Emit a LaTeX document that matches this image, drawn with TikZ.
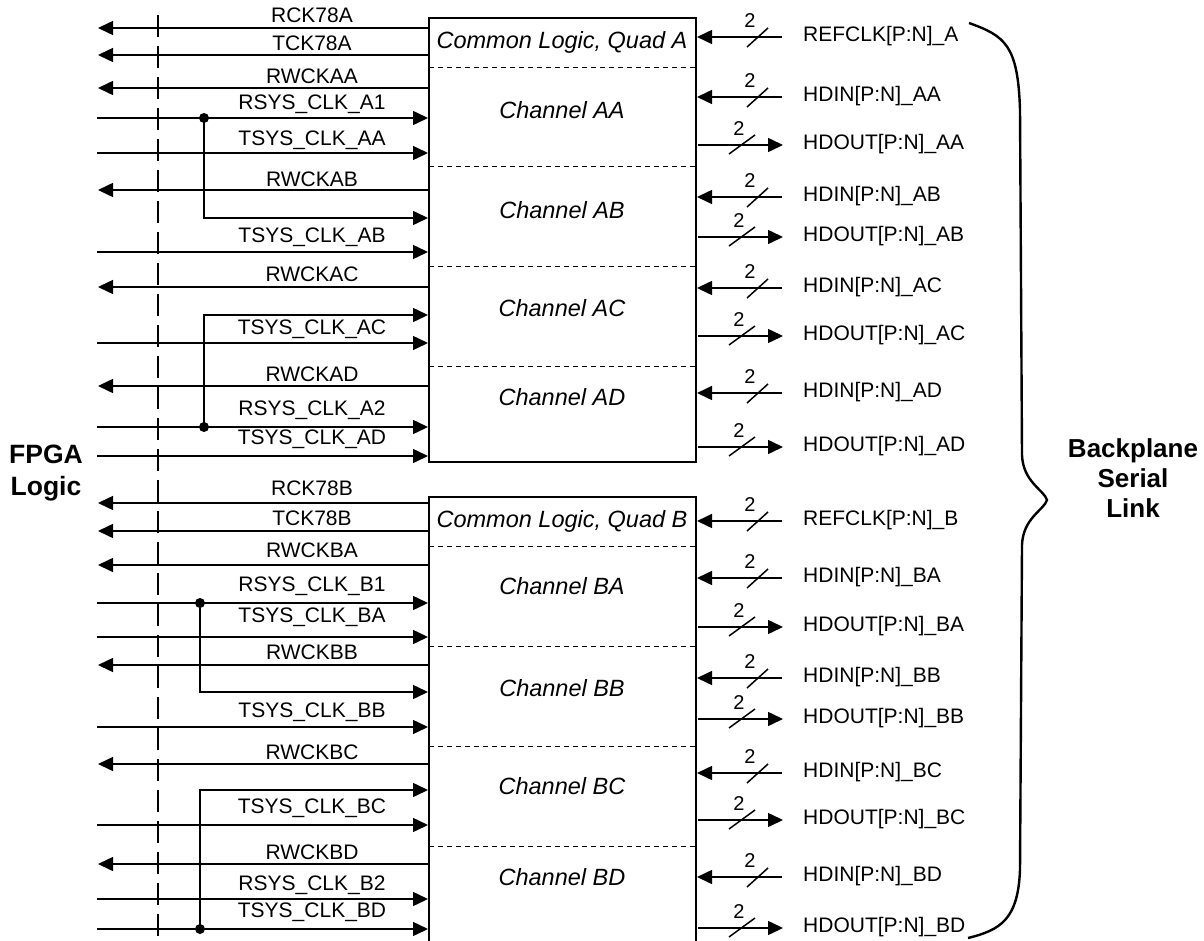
\documentclass[tikz,border=0pt]{standalone}
\usepackage{fontspec}
\setmainfont{Liberation Sans}
\usepackage{tikz}
\usetikzlibrary{calc, arrows.meta}

\tikzset{
  sigline/.style={line width=1.5pt},
  sigarrow/.style={-{Triangle[length=15pt,width=14pt]}},
  boxline/.style={line width=1.3pt},
  chansep/.style={line width=0.9pt, dash pattern=on 5pt off 4pt},
  sigtext/.style={font=\fontsize{21}{24}\selectfont, inner sep=0pt},
  bustext/.style={font=\fontsize{20}{22}\selectfont, inner sep=0pt},
  chantext/.style={font=\fontsize{23.5}{26}\selectfont\itshape, inner sep=0pt},
  sidetext/.style={font=\fontsize{26.5}{32}\selectfont\bfseries, align=center, inner sep=0pt},
  joint/.style={circle, fill=black, inner sep=0pt, minimum size=10pt}
}

\begin{document}
\begin{tikzpicture}[x=1pt, y=-1pt]
\useasboundingbox (0,0) rectangle (1204,941);

\coordinate (A-nw) at (429,18);
\coordinate (A-se) at (696,462);
\coordinate (B-sw) at (429,941);
\coordinate (B-nw) at (429,497);
\coordinate (B-ne) at (696,497);
\coordinate (B-se) at (696,941);
\draw[boxline] (A-nw) rectangle (A-se);
\draw[boxline] (B-sw) -- (B-nw) -- (B-ne) -- (B-se);

\foreach \y in {67,166,266,366,546,646,746,846}
  \draw[chansep] (429,\y) -- (696,\y);

\node[chantext] (clA) at (562,42) {Common Logic, Quad A};
\node[chantext] (clB) at (562,521) {Common Logic, Quad B};
\foreach \y/\t in {110/AA,210/AB,308/AC,397/AD,586/BA,688/BB,786/BC,877/BD}
  \node[chantext] (ch\t) at (562,\y) {Channel \t};

\draw[sigline, dash pattern=on 22pt off 9pt] (158,15) -- (158,941);

\foreach \y/\ly/\t [count=\i] in {28/15/RCK78A, 55/43/TCK78A, 88/76/RWCKAA,
    190/179/RWCKAB, 287/274/RWCKAC, 386/374/RWCKAD,
    503/488/RCK78B, 531/518/TCK78B, 565/550/RWCKBA,
    665/652/RWCKBB, 764/752/RWCKBC, 864/852/RWCKBD}
{
  \coordinate (lo\i) at (98,\y);
  \coordinate (ro\i) at (429,\y);
  \draw[sigline, sigarrow] (ro\i) -- (lo\i);
  \node[sigtext] (to\i) at (312,\ly) {\t};
}

\foreach \y/\ly/\t [count=\i] in {118/104/RSYS\_CLK\_A1, 153/140/TSYS\_CLK\_AA,
    252/237/TSYS\_CLK\_AB, 343/329/TSYS\_CLK\_AC, 427/410/RSYS\_CLK\_A2,
    456/439/TSYS\_CLK\_AD, 603/586/RSYS\_CLK\_B1, 637/617/TSYS\_CLK\_BA,
    727/712/TSYS\_CLK\_BB, 825/808/TSYS\_CLK\_BC, 899/885/RSYS\_CLK\_B2,
    929/912/TSYS\_CLK\_BD}
{
  \coordinate (li\i) at (97,\y);
  \coordinate (ri\i) at (428,\y);
  \draw[sigline, sigarrow] (li\i) -- (ri\i);
  \node[sigtext] (ti\i) at (312,\ly) {\t};
}

\node[joint] (jA1) at (204,118) {};
\node[joint] (jA2) at (204,427) {};
\node[joint] (jB1) at (200,603) {};
\node[joint] (jB2) at (200,929) {};
\coordinate (bA1) at (428,218);
\coordinate (bA2) at (428,315);
\coordinate (bB1) at (428,692);
\coordinate (bB2) at (428,790);
\draw[sigline, sigarrow] (jA1.center) |- (bA1);
\draw[sigline, sigarrow] (jA2.center) |- (bA2);
\draw[sigline, sigarrow] (jB1.center) |- (bB1);
\draw[sigline, sigarrow] (jB2.center) |- (bB2);

\foreach \y/\t [count=\i] in {37/{REFCLK[P:N]\_A}, 97/{HDIN[P:N]\_AA},
    197/{HDIN[P:N]\_AB}, 288/{HDIN[P:N]\_AC}, 393/{HDIN[P:N]\_AD},
    521/{REFCLK[P:N]\_B}, 578/{HDIN[P:N]\_BA}, 678/{HDIN[P:N]\_BB},
    773/{HDIN[P:N]\_BC}, 877/{HDIN[P:N]\_BD}}
{
  \coordinate (hi\i) at (697,\y);
  \coordinate (he\i) at (782,\y);
  \draw[sigline, sigarrow] (he\i) -- (hi\i);
  \draw[sigline] ($(hi\i)+(50,10)$) -- ++(21,-19);
  \node[bustext] (ni\i) at ($(hi\i)+(53,-16)$) {2};
  \node[sigtext, anchor=west] (hn\i) at (803,\y-1) {\t};
}

\foreach \y/\t [count=\i] in {145/{HDOUT[P:N]\_AA}, 237/{HDOUT[P:N]\_AB},
    336/{HDOUT[P:N]\_AC}, 447/{HDOUT[P:N]\_AD}, 627/{HDOUT[P:N]\_BA},
    719/{HDOUT[P:N]\_BB}, 820/{HDOUT[P:N]\_BC}, 928/{HDOUT[P:N]\_BD}}
{
  \coordinate (hs\i) at (698,\y);
  \coordinate (ht\i) at (783,\y);
  \draw[sigline, sigarrow] (hs\i) -- (ht\i);
  \draw[sigline] ($(hs\i)+(31,9)$) -- ++(26,-19);
  \node[bustext] (no\i) at ($(hs\i)+(41,-16)$) {2};
  \node[sigtext, anchor=west] (hm\i) at (803,\y-1) {\t};
}

\draw[line width=2.4pt] (969,23) .. controls (1005,36) and (1018,45) .. (1020,110)
  -- (1022,455) .. controls (1023,482) and (1044,490) .. (1047,500)
  .. controls (1044,510) and (1023,518) .. (1022,545)
  -- (1020,870) .. controls (1018,920) and (1000,930) .. (968,938);

\node[sidetext] (fpga) at (46,473) {FPGA\\Logic};
\node[sidetext, font=\fontsize{26}{30}\selectfont\bfseries] (bsl) at (1133,478) {Backplane\\Serial\\Link};
\end{tikzpicture}
\end{document}
